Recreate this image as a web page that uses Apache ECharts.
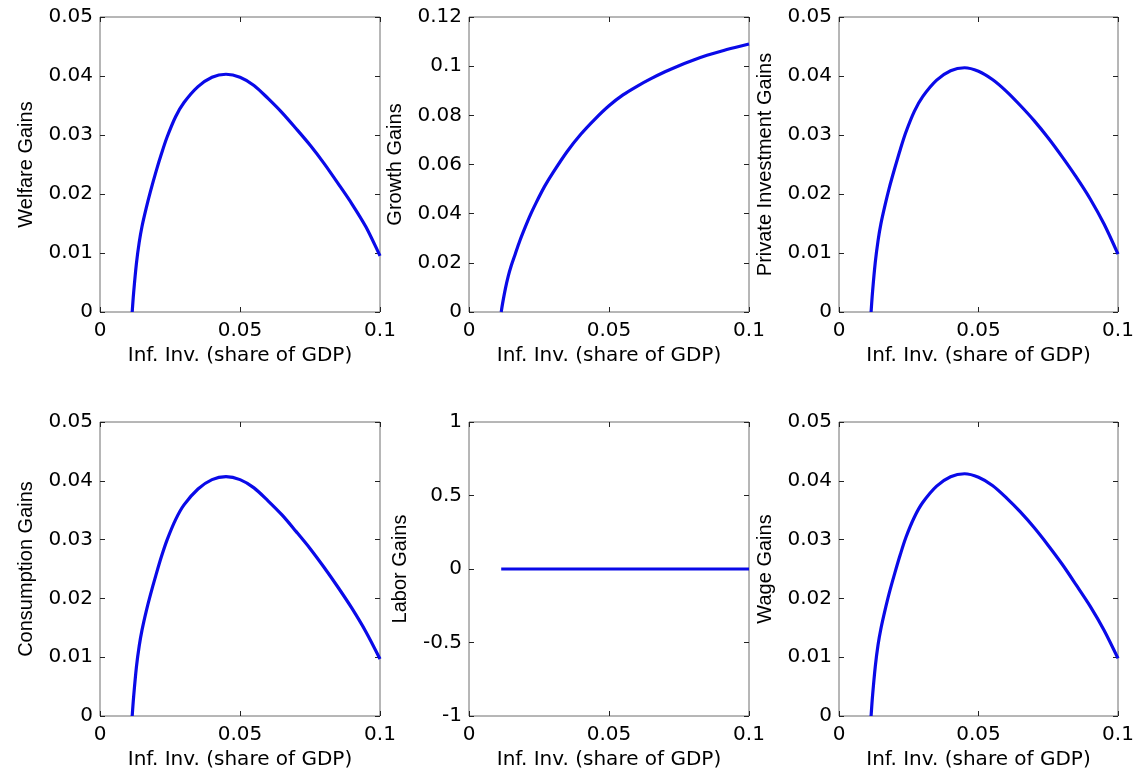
<!DOCTYPE html>
<html>
<head>
<meta charset="utf-8">
<script src="https://cdn.jsdelivr.net/npm/echarts@6/dist/echarts.min.js"></script>
<style>
html,body{margin:0;padding:0;background:#fff;}
#chart{width:1141px;height:778px;}
</style>
</head>
<body>
<div id="chart"></div>
<script>
// Infrastructure investment (share of GDP)
const infInv = [0.0115, 0.012, 0.013, 0.014, 0.015, 0.0165, 0.018, 0.02, 0.022, 0.024, 0.027, 0.03, 0.035, 0.04, 0.045, 0.05, 0.055, 0.06, 0.065, 0.07, 0.075, 0.08, 0.085, 0.09, 0.095, 0.1];
const welfareGains = [0, 0.0032, 0.0082, 0.0118, 0.0145, 0.0176, 0.0204, 0.0238, 0.0269, 0.0297, 0.0331, 0.0355, 0.0382, 0.0398, 0.0403, 0.0398, 0.0384, 0.0362, 0.0338, 0.0311, 0.0283, 0.0252, 0.0218, 0.0183, 0.0144, 0.0095];
const growthGains = [0, 0.0035, 0.0095, 0.0145, 0.0185, 0.0235, 0.0285, 0.0343, 0.0397, 0.0445, 0.0511, 0.0567, 0.0652, 0.0724, 0.0785, 0.0839, 0.0883, 0.0918, 0.0949, 0.0977, 0.1002, 0.1024, 0.1044, 0.1061, 0.1076, 0.1090];
const privateInvGains = [0, 0.0033, 0.0084, 0.0121, 0.0149, 0.0181, 0.0210, 0.0244, 0.0276, 0.0305, 0.0340, 0.0365, 0.0393, 0.0409, 0.0414, 0.0408, 0.0394, 0.0374, 0.0350, 0.0324, 0.0295, 0.0263, 0.0229, 0.0192, 0.0149, 0.0098];
const consumptionGains = [0, 0.0032, 0.0083, 0.0119, 0.0146, 0.0178, 0.0206, 0.0240, 0.0272, 0.0300, 0.0334, 0.0359, 0.0386, 0.0402, 0.0407, 0.0402, 0.0388, 0.0366, 0.0342, 0.0314, 0.0285, 0.0253, 0.0219, 0.0183, 0.0143, 0.0097];
const laborGains = [0, 0, 0, 0, 0, 0, 0, 0, 0, 0, 0, 0, 0, 0, 0, 0, 0, 0, 0, 0, 0, 0, 0, 0, 0, 0];
const wageGains = [0, 0.0033, 0.0084, 0.0121, 0.0148, 0.0180, 0.0209, 0.0243, 0.0275, 0.0304, 0.0338, 0.0363, 0.0391, 0.0407, 0.0412, 0.0406, 0.0392, 0.0371, 0.0347, 0.0320, 0.0290, 0.0258, 0.0223, 0.0187, 0.0146, 0.0098];

const xAxisTitle = 'Inf. Inv. (share of GDP)';
const panelNames = ['Welfare Gains', 'Growth Gains', 'Private Investment Gains', 'Consumption Gains', 'Labor Gains', 'Wage Gains'];
const panelValues = [welfareGains, growthGains, privateInvGains, consumptionGains, laborGains, wageGains];
const yMins = [0, 0, 0, 0, -1, 0];
const yMaxs = [0.05, 0.12, 0.05, 0.05, 1, 0.05];
const yIntervals = [0.01, 0.02, 0.01, 0.01, 0.5, 0.01];
const xMin = 0, xMax = 0.1, xInterval = 0.05;

// layout
const lefts = [100, 469, 839];
const widths = [280, 280, 279];
const tops = [17, 422];
const heights = [295, 294];
const yNameGaps = [64, 64, 64, 64, 59, 64];

const tickFont = 'DejaVu Sans';
const grids = [], xAxes = [], yAxes = [], series = [];
const frameColor = '#6e6e6e';
const tickColor = '#222';

for (let i = 0; i < 6; i++) {
  const r = Math.floor(i / 3), c = i % 3;
  grids.push({left: lefts[c], top: tops[r], width: widths[c], height: heights[r],
    show: true, borderColor: frameColor, borderWidth: 1, backgroundColor: '#fff'});
  // bottom x axis
  xAxes.push({type: 'value', gridIndex: i, min: xMin, max: xMax, interval: xInterval, position: 'bottom',
    name: xAxisTitle, nameLocation: 'middle', nameGap: 34,
    nameTextStyle: {fontFamily: tickFont, fontSize: 20, color: '#000'},
    axisLine: {show: false, onZero: false}, splitLine: {show: false},
    axisTick: {show: true, inside: true, length: 5, lineStyle: {color: tickColor}},
    axisLabel: {show: true, margin: 9, fontFamily: tickFont, fontSize: 20, color: '#000',
      formatter: v => String(+v.toFixed(4))}});
  // top mirror axis
  xAxes.push({type: 'value', gridIndex: i, min: xMin, max: xMax, interval: xInterval, position: 'top',
    axisLine: {show: false, onZero: false}, splitLine: {show: false}, axisLabel: {show: false},
    axisTick: {show: true, inside: true, length: 5, lineStyle: {color: tickColor}}});
  // left y axis
  yAxes.push({type: 'value', gridIndex: i, min: yMins[i], max: yMaxs[i], interval: yIntervals[i], position: 'left',
    name: panelNames[i], nameLocation: 'middle', nameGap: yNameGaps[i],
    nameTextStyle: {fontFamily: 'Liberation Sans', fontSize: 20, color: '#000'},
    axisLine: {show: false, onZero: false}, splitLine: {show: false},
    axisTick: {show: true, inside: true, length: 5, lineStyle: {color: tickColor}},
    axisLabel: {show: true, margin: 7, fontFamily: tickFont, fontSize: 20, color: '#000',
      formatter: v => String(+v.toFixed(4))}});
  // right mirror axis
  yAxes.push({type: 'value', gridIndex: i, min: yMins[i], max: yMaxs[i], interval: yIntervals[i], position: 'right',
    axisLine: {show: false, onZero: false}, splitLine: {show: false}, axisLabel: {show: false},
    axisTick: {show: true, inside: true, length: 5, lineStyle: {color: tickColor}}});
  series.push({type: 'line', xAxisIndex: 2 * i, yAxisIndex: 2 * i, showSymbol: false, smooth: 0.3,
    lineStyle: {color: '#0a0ae8', width: 3.2}, itemStyle: {color: '#0a0ae8'},
    data: infInv.map((x, k) => [x, panelValues[i][k]])});
}

const chart = echarts.init(document.getElementById('chart'));
chart.setOption({animation: false, backgroundColor: '#fff', grid: grids, xAxis: xAxes, yAxis: yAxes, series: series});
</script>
</body>
</html>
